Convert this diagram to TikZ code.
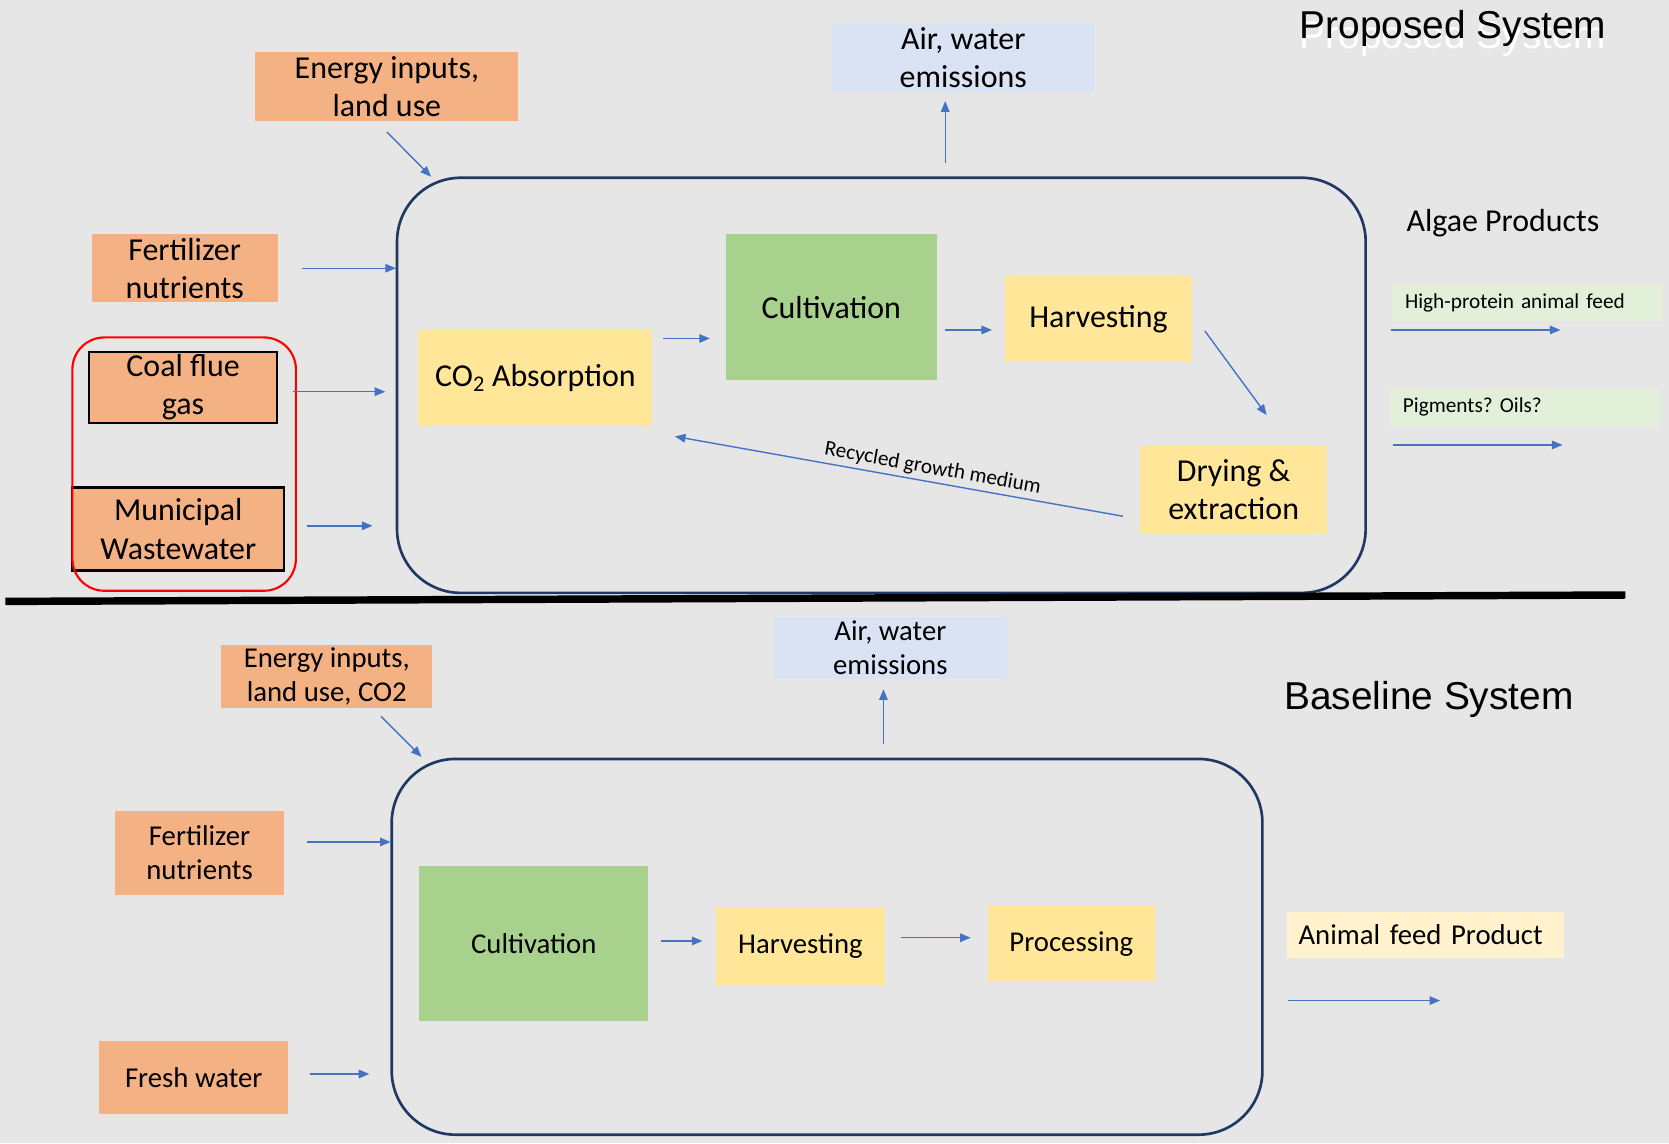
\documentclass[tikz,border=0pt]{standalone}
\usepackage{fontspec}
\setmainfont{Carlito}
\newfontfamily\arialfont{Liberation Sans}
\usetikzlibrary{arrows.meta}
\definecolor{bg}{HTML}{E7E6E6}
\definecolor{orangefill}{HTML}{F4B183}
\definecolor{greenfill}{HTML}{A9D18E}
\definecolor{yellowfill}{HTML}{FFE699}
\definecolor{bluefill}{HTML}{DAE3F3}
\definecolor{palegreen}{HTML}{E2F0D9}
\definecolor{paleyellow}{HTML}{FFF2CC}
\definecolor{arrowblue}{HTML}{4472C4}
\definecolor{navy}{HTML}{203864}
\frenchspacing
\begin{document}
\begin{tikzpicture}[x=1pt,y=-1pt,
  every node/.style={inner sep=0pt, outer sep=0pt, align=center, text=black},
  fA/.style={font=\fontsize{30}{36}\selectfont},
  fB/.style={font=\fontsize{27}{32}\selectfont},
  fS/.style={font=\fontsize{20}{24}\selectfont},
  ftitle/.style={font=\arialfont\fontsize{36.5}{40}\selectfont, anchor=base},
  box/.style 2 args={minimum width=#1pt, minimum height=#2pt},
  arr/.style={draw=arrowblue, line width=1.3pt, -{Triangle[length=10pt,width=8pt]}},
  sysbox/.style={draw=navy, line width=2.5pt, rounded corners=60pt},
  framed/.style={draw=black, line width=2pt},
  prodbox/.style={fS, minimum height=#1pt, align=left, anchor=west, inner xsep=12pt, text width=230pt}
]
\fill[bg] (0,0) rectangle (1568,1074);
\useasboundingbox (0,0) rectangle (1568,1074);

% ---------- titles ----------
\node[ftitle, text=white] (titleAshadow) at (1365,46) {Proposed System};
\node[ftitle] (titleA) at (1365,36) {Proposed System};
\node[ftitle] (titleB) at (1342.5,667) {Baseline System};
\node[fA] (algae) at (1412,210) {Algae Products};

% ---------- proposed system ----------
\node[sysbox, box={910}{390}] (sysA) at (828,362) {};
\node[fA, box={247}{65}, fill=orangefill] (eA) at (363.5,81.5) {Energy inputs,\\land use};
\node[fA, box={246}{64}, fill=bluefill] (airA) at (905,54) {Air, water\\emissions};
\node[fA, box={175}{64}, fill=orangefill] (fertA) at (173.5,252) {Fertilizer\\nutrients};
\node[fA, box={176}{66}, fill=orangefill, framed] (coalA) at (172,364) {Coal flue\\gas};
\node[fA, box={199}{78}, fill=orangefill, framed] (munA) at (167.5,497) {Municipal\\Wastewater};
\node[draw=red, line width=2pt, rounded corners=30pt, box={210}{238}] (grp) at (173,436) {};
\node[fA, box={220}{90}, fill=yellowfill] (co2A) at (503,355) {CO\textsubscript{2} Absorption};
\node[fA, box={198}{137}, fill=greenfill] (cultA) at (781,288.5) {Cultivation};
\node[fA, box={176}{81}, fill=yellowfill] (harvA) at (1032,299.5) {Harvesting};
\node[fA, box={176}{82}, fill=yellowfill] (dryA) at (1159,460) {Drying \&\\extraction};
\node[prodbox=34, fill=palegreen] (hpA) at (1308,285) {High-protein animal feed};
\node[prodbox=35, fill=palegreen] (pigA) at (1306,382.5) {Pigments? Oils?};

\coordinate (eAend) at (405,166);
\coordinate (airAfrom) at (888,153);
\coordinate (coalEnd) at (362,368);
\coordinate (munEnd) at (350,494);
\coordinate (pA1s) at (1307,310);
\coordinate (pA1e) at (1466,310);
\coordinate (pA2s) at (1309,418);
\coordinate (pA2e) at (1468,418);

\draw[arr] ([shift={(0,10)}]eA.south) -- (eAend);
\draw[arr] (airAfrom) -- ([shift={(-17,9)}]airA.south);
\draw[arr, shorten <=23pt, shorten >=1pt] (fertA.east) -- (fertA.east -| sysA.west);
\draw[arr] ([shift={(15,4)}]coalA.east) -- (coalEnd);
\draw[arr] ([shift={(21,-3)}]munA.east) -- (munEnd);
\draw[arr] ([shift={(10,-37)}]co2A.east) -- ([shift={(-15,29.5)}]cultA.west);
\draw[arr] ([shift={(8,21.5)}]cultA.east) -- ([shift={(-12,10.5)}]harvA.west);
\draw[arr] ([shift={(12,11.5)}]harvA.east) -- ([shift={(31,-29)}]dryA.north);
\draw[arr] ([shift={(-16,25)}]dryA.west) -- ([shift={(21,10)}]co2A.south east)
  node[fS, pos=0.43, sloped, above=4pt] (recyc) {Recycled growth medium};
\draw[arr] (pA1s) -- (pA1e);
\draw[arr] (pA2s) -- (pA2e);

% ---------- separator ----------
\coordinate (sepL) at (5,565);
\coordinate (sepR) at (1527,559);
\draw[line width=7pt, black] (sepL) -- (sepR);

% ---------- baseline system ----------
\node[sysbox, box={818}{353}] (sysB) at (777,889.5) {};
\node[fB, box={198}{59}, fill=orangefill] (eB) at (307,635.5) {Energy inputs,\\land use, CO2};
\node[fB, box={219}{58}, fill=bluefill] (airB) at (836.5,608.5) {Air, water\\emissions};
\node[fB, box={159}{79}, fill=orangefill] (fertB) at (187.5,801) {Fertilizer\\nutrients};
\node[fB, box={178}{69}, fill=orangefill] (freshB) at (182,1012.5) {Fresh water};
\node[fB, box={215}{145}, fill=greenfill] (cultB) at (501.5,886.5) {Cultivation};
\node[fB, box={158}{74}, fill=yellowfill] (harvB) at (752,889) {Harvesting};
\node[fB, box={157}{73}, fill=yellowfill] (procB) at (1006.5,886.5) {Processing};
\node[fB, fill=paleyellow, minimum height=43pt, anchor=west, align=left, inner xsep=11pt, text width=238pt] (animal) at (1209,878.5) {Animal feed Product};

\coordinate (eBend) at (396,711);
\coordinate (airBfrom) at (830,699);
\coordinate (fertBend) at (367,791);
\coordinate (freshBend) at (347,1009);
\coordinate (animS) at (1210,940);
\coordinate (animE) at (1353,940);

\draw[arr] ([shift={(51,8)}]eB.south) -- (eBend);
\draw[arr] (airBfrom) -- ([shift={(-6.5,10)}]airB.south);
\draw[arr] ([shift={(21,-10)}]fertB.east) -- (fertBend);
\draw[arr] ([shift={(20,-3.5)}]freshB.east) -- (freshBend);
\draw[arr] ([shift={(12,-2.5)}]cultB.east) -- ([shift={(-13,-5)}]harvB.west);
\draw[arr] ([shift={(15,-8)}]harvB.east) -- ([shift={(-16,-5.5)}]procB.west);
\draw[arr] (animS) -- (animE);
\end{tikzpicture}
\end{document}
